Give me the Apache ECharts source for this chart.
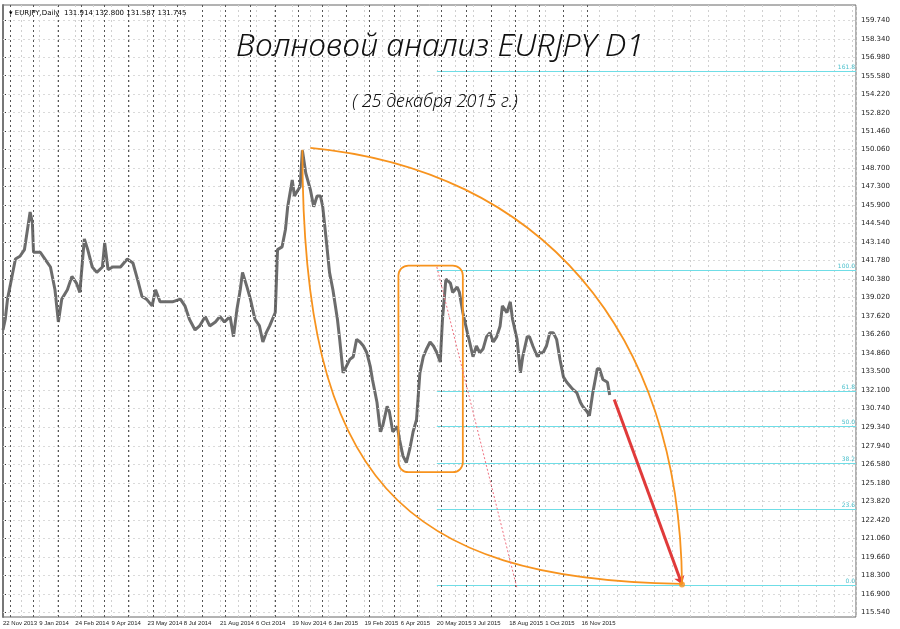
<!DOCTYPE html>
<html><head><meta charset="utf-8">
<script src="https://cdn.jsdelivr.net/npm/echarts@6/dist/echarts.min.js"></script>
<style>html,body{margin:0;padding:0;background:#fff}#c{width:900px;height:629px}</style>
</head><body><div id="c"></div>
<script>
// price path: bar index and approximate price
const barIndex = [0,2,4,11,15,19,24,26,27,33,37,42,46,49,52,57,61,65,68,72,75,79,83,88,90,93,97,104,110,115,119,123,127,132,135,
139,145,150,157,161,165,170,174,179,183,188,192,196,201,204,207,210,212,216,219,223,227,230,233,236,241,243,247,250,252,256,258,260,263,265,268,272,275,278,281,283,286,289,292,296,298,301,304,307,310,313,316,319,322,325,327,331,334,336,340,342,345,349,351,354,357,360,363,366,369,372,375,378,381,384,387,389,392,396,398,402,404,407,411,413,416,419,422,425,428,431,434,437,440,442,446,449,451,455,458,460,464,466,469,473,475,478,481,484,487,490,493,496,499,502,504,508,511,513,517,519,522,526,528,531,535,537];
const price = [136.6,137.4,138.9,141.9,142.1,142.6,145.4,144.6,142.4,142.4,141.9,141.3,139.6,137.2,138.9,139.6,140.6,140.1,139.4,143.4,142.6,141.3,140.9,141.3,143.1,141.1,141.3,141.3,141.9,141.6,140.4,139.1,138.9,138.4,139.6,
138.7,138.7,138.7,138.9,138.4,137.4,136.6,136.9,137.6,136.9,137.2,137.6,137.2,137.6,136.1,138.1,139.6,140.9,139.8,138.9,137.4,136.9,135.7,136.4,136.9,137.9,142.6,142.8,144.1,145.8,147.8,146.6,146.9,147.3,150.0,148.3,147.1,145.8,146.6,146.6,145.8,143.4,140.9,139.6,137.4,135.9,133.4,133.9,134.4,134.6,135.9,135.7,135.4,134.9,133.9,132.9,131.2,129.0,129.4,130.9,130.5,129.0,129.4,128.4,127.2,126.7,127.7,129.0,129.9,133.4,134.6,135.2,135.7,135.4,134.9,134.2,137.4,140.4,140.1,139.4,139.8,139.4,137.9,136.4,135.7,134.6,135.4,134.9,135.2,136.1,136.4,135.7,136.1,136.9,138.4,137.9,138.7,137.4,135.9,133.4,134.6,136.1,136.1,135.4,134.6,134.9,134.9,135.4,136.4,136.4,135.9,134.4,133.1,132.7,132.4,132.2,131.9,131.2,130.9,130.5,130.2,131.9,133.7,133.7,132.9,132.7,131.745];
const dateLabels = ['22 Nov 2013','9 Jan 2014','24 Feb 2014','9 Apr 2014','23 May 2014','8 Jul 2014','21 Aug 2014','6 Oct 2014','19 Nov 2014','6 Jan 2015','19 Feb 2015','6 Apr 2015','20 May 2015','3 Jul 2015','18 Aug 2015','1 Oct 2015','16 Nov 2015'];
const yTicks = [159.740,158.340,156.980,155.580,154.220,152.820,151.460,150.060,148.700,147.300,145.900,144.540,143.140,141.780,140.380,139.020,137.620,136.260,134.860,133.500,132.100,130.740,129.340,127.940,126.580,125.180,123.820,122.420,121.060,119.660,118.300,116.900,115.540];
const monthStarts = [6,27,49,69,90,111,133,154,176,197,219,241,261,283,304,324,346,367,388,410,432,453,475,496,517];
const fibNames = ['161.8','100.0','61.8','50.0','38.2','23.6','0.0'];
const fibLevels = [155.92,141.06,132.04,129.41,126.66,123.18,117.52];
// arcs as cubic curves: start, control1, control2, end (bar index, price)
const upperArc = [272,150.2, 475,148.56, 599,136.64, 601,117.64];
const lowerArc = [265,150.05, 265,125.46, 351,118.01, 601,117.64];
const boxX = [350,407], boxY = [125.98,141.41];
const dottedX = [384,455], dottedY = [141.3,117.3];
const arrowX = [541,601], arrowY = [131.4,117.6];
const lastPrice = 131.745;

const chart = echarts.init(document.getElementById('c'));
const zip = (a,b)=>a.map((v,i)=>[v,b[i]]);
const FONT = 'DejaVu Sans';
const arcItem = (params,api)=>{
  const p=[0,1,2,3].map(k=>api.coord([api.value(2*k),api.value(2*k+1)]));
  return {type:'bezierCurve',shape:{x1:p[0][0],y1:p[0][1],cpx1:p[1][0],cpy1:p[1][1],cpx2:p[2][0],cpy2:p[2][1],x2:p[3][0],y2:p[3][1]},
    style:{fill:'none',stroke:'#f7931e',lineWidth:1.8}};
};
chart.setOption({
  animation:false,
  backgroundColor:'#fff',
  title:[
    {text:'▾ EURJPY,Daily  131.914 132.800 131.587 131.745',left:4,top:5,textStyle:{fontSize:7,fontWeight:'normal',color:'#000',fontFamily:FONT}},
    {text:'Волновой анализ EURJPY D1',left:435,top:26,textAlign:'center',textStyle:{fontSize:32,fontWeight:300,fontStyle:'italic',color:'#111',fontFamily:'Noto Sans'}},
    {text:'( 25 декабря 2015 г.)',left:430,top:88,textAlign:'center',textStyle:{fontSize:18,fontWeight:300,fontStyle:'italic',color:'#111',fontFamily:'Noto Sans'}}
  ],
  grid:{left:3,right:44,top:5,bottom:12,show:true,borderColor:'#666',borderWidth:1},
  xAxis:{type:'value',min:0,max:755,interval:16,
    axisLine:{show:false},axisTick:{show:false},
    axisLabel:{customValues:dateLabels.map((d,i)=>i*32),formatter:v=>dateLabels[Math.round(v/32)]||'',showMinLabel:true,hideOverlap:false,
      fontSize:6,color:'#222',fontFamily:'Liberation Sans',align:'left',margin:3},
    splitLine:{show:true,lineStyle:{color:'#d0d0d0',type:[2,3],width:1}}},
  yAxis:{type:'value',position:'right',min:115.17,max:160.86,
    axisLine:{show:true,lineStyle:{color:'#777',width:2}},
    axisTick:{show:true,customValues:yTicks,length:3,lineStyle:{color:'#333'}},
    axisLabel:{customValues:yTicks,formatter:v=>v.toFixed(3),fontSize:7,color:'#222',fontFamily:FONT,margin:5},
    splitLine:{show:false}},
  series:[
    {type:'line',silent:true,data:[],z:1,markLine:{silent:true,symbol:'none',label:{show:false},
      lineStyle:{color:'#dadada',type:[2,3],width:1},data:yTicks.map(v=>({yAxis:v}))}},
    {type:'line',silent:true,data:[],z:1,markLine:{silent:true,symbol:'none',label:{show:false},
      lineStyle:{color:'#555',type:[2,3],width:1},data:monthStarts.map(v=>({xAxis:v}))}},
    {type:'line',silent:true,data:[],z:3,markLine:{silent:true,symbol:'none',z:3,
      lineStyle:{color:'#6fdde6',type:'solid',width:1.2},
      label:{show:true,position:'insideEndTop',color:'#4cc0cc',fontSize:6,fontFamily:FONT,formatter:p=>p.name,distance:1},
      data:fibLevels.map((v,i)=>[{name:fibNames[i],coord:[384,v]},{coord:[755,v]}])}},
    {type:'line',data:zip(barIndex,price),symbol:'none',lineStyle:{color:'#6c6c6c',width:3},z:4},
    {type:'custom',z:5,data:[upperArc,lowerArc],renderItem:arcItem},
    {type:'custom',z:5,data:[[boxX[0],boxY[1],boxX[1],boxY[0]]],
      renderItem:(params,api)=>{
        const p1=api.coord([api.value(0),api.value(1)]),p2=api.coord([api.value(2),api.value(3)]);
        return {type:'rect',shape:{x:p1[0],y:p1[1],width:p2[0]-p1[0],height:p2[1]-p1[1],r:10},
          style:{fill:'none',stroke:'#f7931e',lineWidth:1.8}};
      }},
    {type:'line',data:zip(dottedX,dottedY),symbol:'none',lineStyle:{color:'#f07080',width:1,type:[2,2]},z:5},
    {type:'line',data:[],z:6,markLine:{silent:true,symbol:['none','arrow'],symbolSize:8,label:{show:false},
      lineStyle:{color:'#e03a3a',width:3,type:'solid'},
      data:[[{coord:[arrowX[0],arrowY[0]]},{coord:[arrowX[1],arrowY[1]]}]]}},
    {type:'scatter',data:[[arrowX[1],arrowY[1]]],symbolSize:6,itemStyle:{color:'#f7931e'},z:7},
    {type:'line',data:[],z:7,markLine:{silent:true,symbol:'none',lineStyle:{opacity:0},
      label:{show:true,position:'end',formatter:lastPrice.toFixed(3),backgroundColor:'#000',color:'#fff',fontSize:7,padding:[1,2],fontFamily:FONT,distance:2},
      data:[{yAxis:lastPrice}]}}
  ]
});
</script></body></html>
